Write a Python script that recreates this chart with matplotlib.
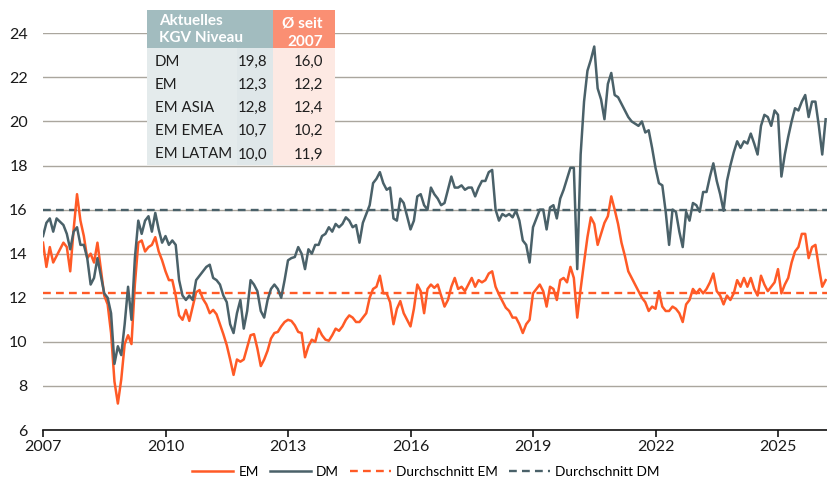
import matplotlib
matplotlib.use("Agg")
import matplotlib.pyplot as plt
from matplotlib.patches import Rectangle
import numpy as np

plt.rcParams['font.family'] = ['Lato', 'DejaVu Sans']

# monthly KGV values, Jan 2007 .. Mar 2026
dm = [14.8, 15.4, 15.6, 15.0, 15.6, 15.45, 15.3, 14.9, 14.2, 15.0, 15.2, 14.4,
      14.4, 13.8, 12.6, 12.9, 13.8, 13.0, 12.2, 12.0, 11.3, 9.0, 9.8, 9.4,
      10.8, 12.5, 11.0, 13.8, 15.5, 14.9, 15.5, 15.7, 15.0, 15.85, 15.1, 14.5,
      14.8, 14.4, 14.6, 14.4, 12.8, 12.1, 11.9, 12.1, 11.9, 12.8, 13.0, 13.2,
      13.4, 13.5, 12.9, 12.8, 12.6, 12.1, 11.8, 10.8, 10.4, 11.3, 11.9, 10.6,
      11.4, 12.8, 12.6, 12.3, 11.4, 11.1, 11.9, 12.4, 12.6, 12.4, 12.0, 12.8,
      13.7, 13.8, 13.85, 14.3, 14.0, 13.3, 14.2, 14.0, 14.4, 14.4, 14.8, 14.9,
      15.2, 15.0, 15.35, 15.2, 15.35, 15.65, 15.5, 15.2, 15.3, 14.5, 15.4, 15.8,
      16.2, 17.2, 17.4, 17.7, 17.2, 16.9, 17.0, 15.6, 15.5, 16.5, 16.3, 15.7,
      15.1, 15.5, 16.6, 16.7, 16.2, 16.0, 17.0, 16.7, 16.5, 16.2, 16.3, 16.9,
      17.5, 17.0, 17.0, 17.1, 16.9, 17.0, 17.0, 16.6, 17.0, 17.3, 17.3, 17.7,
      17.8, 16.0, 15.5, 15.8, 15.7, 15.8, 15.65, 15.95, 15.5, 14.6, 14.4, 13.6,
      15.2, 15.6, 16.0, 16.0, 15.1, 16.1, 16.2, 15.6, 16.5, 16.9, 17.4, 17.9,
      17.9, 13.3, 18.5, 20.9, 22.3, 22.8, 23.4, 21.5, 21.0, 20.1, 21.7, 22.2,
      21.2, 21.1, 20.8, 20.5, 20.2, 20.0, 19.9, 19.8, 20.0, 19.5, 19.6, 18.8,
      17.9, 17.2, 17.1, 15.9, 14.4, 16.0, 15.9, 15.0, 14.3, 15.9, 15.5, 16.3,
      16.2, 15.9, 16.8, 16.8, 17.5, 18.1, 17.3, 16.7, 15.95, 17.3, 18.0, 18.6,
      19.1, 18.8, 19.1, 19.0, 19.45, 19.0, 18.5, 19.8, 20.3, 20.2, 19.8, 20.5,
      20.3, 17.5, 18.5, 19.3, 20.0, 20.6, 20.5, 20.9, 21.2, 20.2, 20.9, 20.9,
      19.8, 18.5, 20.1]

em = [14.5, 13.4, 14.3, 13.6, 13.9, 14.2, 14.5, 14.3, 13.2, 15.1, 16.7, 15.5,
      14.8, 13.8, 14.0, 13.6, 14.5, 13.3, 12.1, 11.7, 10.4, 8.2, 7.2, 8.3,
      9.9, 10.3, 9.9, 12.6, 14.5, 14.6, 14.1, 14.3, 14.4, 14.75, 14.1, 13.7,
      13.2, 12.8, 12.8, 12.1, 11.2, 11.0, 11.45, 10.95, 11.6, 12.25, 12.35, 11.95,
      11.7, 11.3, 11.45, 11.25, 10.8, 10.35, 9.85, 9.2, 8.5, 9.2, 9.1, 9.2,
      9.75, 10.3, 10.35, 9.7, 8.9, 9.2, 9.6, 10.15, 10.4, 10.45, 10.7, 10.9,
      11.0, 10.95, 10.75, 10.45, 10.4, 9.3, 9.8, 10.1, 10.0, 10.6, 10.3, 10.1,
      10.05, 10.3, 10.6, 10.5, 10.7, 11.0, 11.2, 11.1, 10.9, 10.9, 11.1, 11.3,
      12.0, 12.4, 12.5, 13.0, 12.2, 12.2, 11.8, 10.8, 11.5, 11.85, 11.3, 11.0,
      10.7, 11.5, 12.6, 12.3, 11.3, 12.4, 12.6, 12.45, 12.6, 12.1, 11.6, 11.9,
      12.5, 12.9, 12.4, 12.5, 12.3, 12.6, 12.9, 12.5, 12.8, 12.7, 12.8, 13.1,
      13.2, 12.5, 12.15, 11.85, 11.55, 11.4, 11.1, 11.1, 10.8, 10.4, 10.8, 11.0,
      12.2, 12.4, 12.6, 12.3, 11.6, 12.5, 12.4, 11.9, 12.8, 12.9, 12.7, 13.4,
      12.9, 11.1, 12.4, 13.6, 14.75, 15.65, 15.35, 14.4, 14.9, 15.4, 15.7, 16.6,
      16.0, 15.35, 14.5, 13.9, 13.2, 12.9, 12.6, 12.3, 12.0, 11.8, 11.4, 11.6,
      11.5, 12.3, 11.6, 11.4, 11.4, 11.6, 11.5, 11.3, 10.9, 11.7, 11.9, 12.4,
      12.2, 12.4, 12.2, 12.4, 12.7, 13.1, 12.3, 12.1, 11.7, 12.1, 11.9, 12.2,
      12.8, 12.5, 12.9, 12.5, 12.9, 12.4, 12.1, 13.0, 12.6, 12.3, 12.5, 12.7,
      13.3, 12.2, 12.6, 12.9, 13.6, 14.1, 14.3, 14.9, 14.9, 13.8, 14.3, 14.4,
      13.4, 12.5, 12.8]

t = 2007 + np.arange(len(dm)) / 12

avg_em = 12.2
avg_dm = 16.0

table_rows = ['DM', 'EM', 'EM ASIA', 'EM EMEA', 'EM LATAM']
table_now = ['19,8', '12,3', '12,8', '10,7', '10,0']
table_avg = ['16,0', '12,2', '12,4', '10,2', '11,9']

orange = '#ff5a26'
slate = '#4a6169'
gridc = '#aaa69e'

W, H = 827, 486
fig = plt.figure(figsize=(W / 100, H / 100), dpi=100)
ax = fig.add_axes([43 / W, 56 / H, 1 - 43 / W, (430 - 33.3) / H])

ax.plot(t, em, color=orange, lw=1.8, label='EM', zorder=3)
ax.plot(t, dm, color=slate, lw=1.8, label='DM', zorder=3)
ax.axhline(avg_em, color=orange, lw=1.7, ls=(0, (3.3, 2.2)), label='Durchschnitt EM', zorder=2)
ax.axhline(avg_dm, color=slate, lw=1.7, ls=(0, (3.3, 2.2)), label='Durchschnitt DM', zorder=2)

ax.set_xlim(2007, 2026.2)
ax.set_ylim(6, 24)
ax.set_yticks(range(6, 25, 2))
ax.set_xticks(range(2007, 2026, 3))
ax.yaxis.grid(True, color=gridc, lw=1)
ax.set_axisbelow(True)
for s in ['left', 'right', 'top']:
    ax.spines[s].set_visible(False)
ax.spines['bottom'].set_color('#111111')
ax.spines['bottom'].set_linewidth(1.2)
ax.tick_params(axis='y', length=0, pad=11, labelsize=11.5, labelcolor='#1a1a1a')
ax.tick_params(axis='x', length=5, width=1.1, pad=2, labelsize=11.5, labelcolor='#1a1a1a')

fig.legend(loc='lower center', bbox_to_anchor=(0.515, -0.008), ncol=4, frameon=False,
           fontsize=9.8, handlelength=3.0, columnspacing=0.8, handletextpad=0.4)


# table in pixel coords (top-left origin)
def fx(x):
    return x / W


def fy(y):
    return 1 - y / H


def box(x0, y0, x1, y1, c):
    fig.add_artist(Rectangle((fx(x0), fy(y1)), fx(x1) - fx(x0), fy(y0) - fy(y1),
                             transform=fig.transFigure, color=c, lw=0, zorder=5))


box(147, 10, 273, 48, '#a2bcbf')
box(273, 10, 335, 48, '#fa8f73')
box(147, 48, 273, 165, '#e4ebec')
box(237, 48, 273, 165, '#dfe7e9')
box(273, 48, 335, 165, '#fde9e3')

hdr = dict(transform=fig.transFigure, color='white', fontsize=11, fontweight='bold',
           va='center', zorder=6)
fig.text(fx(159), fy(21), 'Aktuelles', ha='left', **hdr)
fig.text(fx(159), fy(37.5), 'KGV Niveau', ha='left', **hdr)
fig.text(fx(323), fy(23), 'Ø seit', ha='right', **hdr)
fig.text(fx(323), fy(42), '2007', ha='right', **hdr)

body = dict(transform=fig.transFigure, color='#1f1f1f', fontsize=10.8, va='center', zorder=6)
for i, (name, now, avg) in enumerate(zip(table_rows, table_now, table_avg)):
    yy = 62 + i * 23.1
    fig.text(fx(155), fy(yy), name, ha='left', **body)
    fig.text(fx(267.5), fy(yy), now, ha='right', **body)
    fig.text(fx(323), fy(yy), avg, ha='right', **body)

fig.savefig('out.png', dpi=100)
